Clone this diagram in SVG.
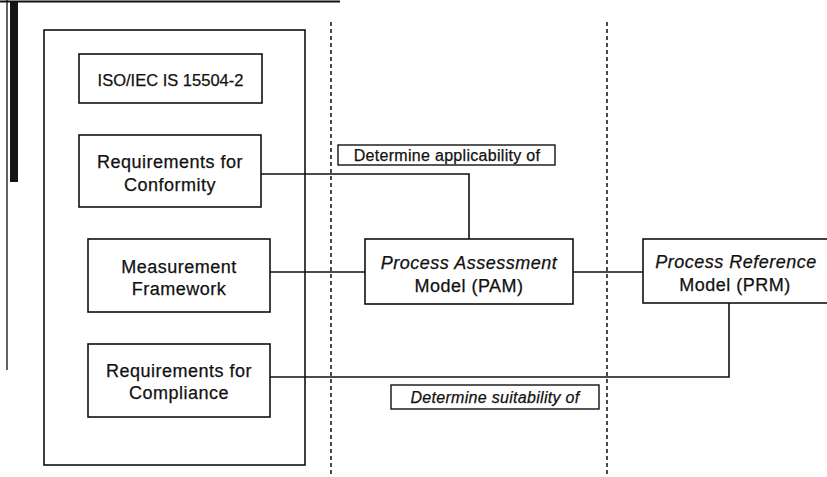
<svg xmlns="http://www.w3.org/2000/svg" width="827" height="477" viewBox="0 0 827 477">
  <style>
    .box { fill: #fff; stroke: #111; stroke-width: 1.6; }
    .frame { fill: none; stroke: #111; stroke-width: 1.6; }
    .lbl { fill: #fff; stroke: #111; stroke-width: 1.4; }
    .conn { fill: none; stroke: #111; stroke-width: 1.6; }
    .lane { fill: none; stroke: #111; stroke-width: 1.5; stroke-dasharray: 4 3; }
    text { font-family: "Liberation Sans", Arial, sans-serif; fill: #111; text-anchor: middle; stroke: #111; stroke-width: 0.25; }
    .t { font-size: 18px; letter-spacing: 0.5px; }
    .ti { font-size: 18px; letter-spacing: 0.5px; font-style: italic; }
    .s { font-size: 16px; letter-spacing: 0.3px; }
    .si { font-size: 16px; letter-spacing: 0.3px; font-style: italic; }
  </style>

  <!-- page edge marks -->
  <g id="page-edge">
    <line x1="0" y1="1.5" x2="340" y2="1.5" stroke="#111" stroke-width="2"/>
    <line x1="7" y1="0" x2="7" y2="370" stroke="#111" stroke-width="1.3"/>
    <rect x="10" y="2" width="8" height="180" fill="#151515"/>
  </g>

  <!-- swimlane dividers -->
  <g id="lanes">
    <line class="lane" x1="331" y1="22" x2="331" y2="477"/>
    <line class="lane" x1="607" y1="22" x2="607" y2="477"/>
  </g>

  <!-- standard container (outline only, connectors pass through it) -->
  <g id="iso-15504-2">
    <rect class="frame" x="44" y="30" width="261" height="435"/>
  </g>

  <!-- connectors -->
  <g id="connectors">
    <path class="conn" d="M261,174 H469 V239"/>
    <path class="conn" d="M270,272 H365"/>
    <path class="conn" d="M573,272 H643"/>
    <path class="conn" d="M270,377 H729 V303"/>
  </g>

  <g id="iso-title">
    <rect class="box" x="79" y="54" width="183" height="49"/>
    <text x="170.5" y="86" style="font-size:16.5px">ISO/IEC IS 15504-2</text>
  </g>

  <g id="req-conformity">
    <rect class="box" x="79" y="135" width="182" height="72"/>
    <text class="t" x="170" y="168">Requirements for</text>
    <text class="t" x="170" y="191">Conformity</text>
  </g>

  <g id="measurement-framework">
    <rect class="box" x="88" y="239" width="182" height="73"/>
    <text class="t" x="179" y="273">Measurement</text>
    <text class="t" x="179" y="295">Framework</text>
  </g>

  <g id="req-compliance">
    <rect class="box" x="88" y="344" width="182" height="73"/>
    <text class="t" x="179" y="377">Requirements for</text>
    <text class="t" x="179" y="399">Compliance</text>
  </g>

  <g id="pam">
    <rect class="box" x="365" y="239" width="208" height="65"/>
    <text class="ti" x="469" y="269">Process Assessment</text>
    <text class="t" x="469" y="292">Model (PAM)</text>
  </g>

  <g id="prm">
    <rect class="box" x="643" y="239" width="200" height="64"/>
    <text class="ti" x="736" y="268">Process Reference</text>
    <text class="t" x="735" y="291">Model (PRM)</text>
  </g>

  <!-- connector labels -->
  <g id="label-applicability">
    <rect class="lbl" x="338" y="145" width="217" height="20"/>
    <text class="s" x="447" y="161">Determine applicability of</text>
  </g>

  <g id="label-suitability">
    <rect class="lbl" x="391" y="385" width="208" height="24"/>
    <text class="si" x="495" y="403">Determine suitability of</text>
  </g>
</svg>
